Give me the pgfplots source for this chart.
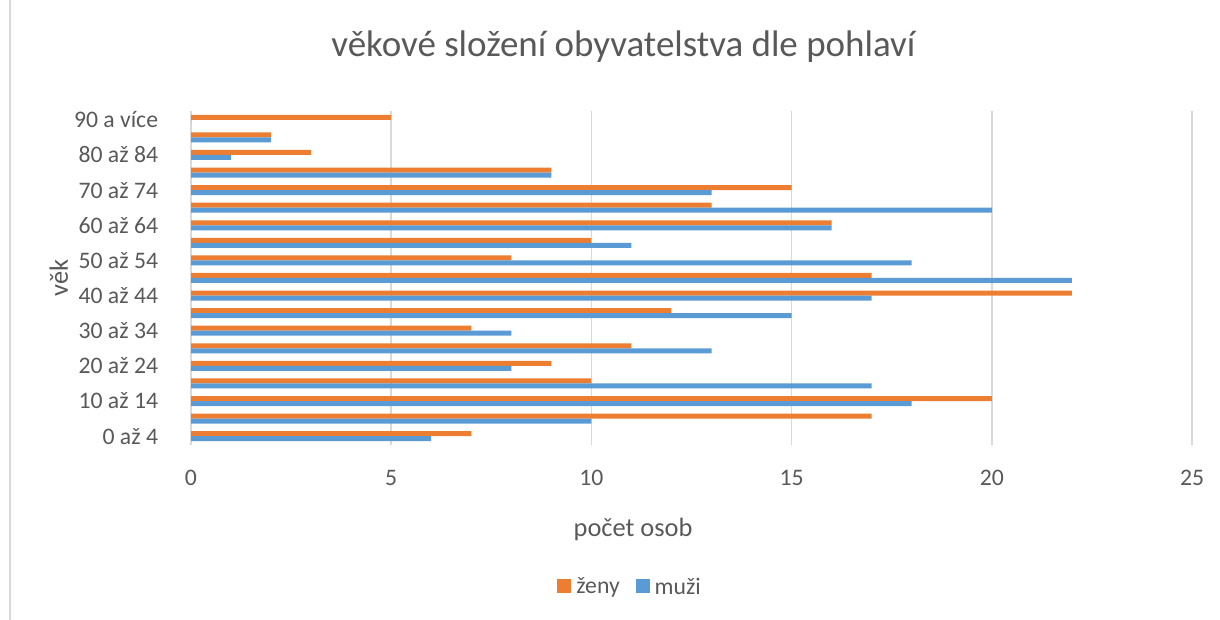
\documentclass[border=0pt]{standalone}
\usepackage{pgfplots}
\pgfplotsset{compat=1.18}
\usepackage{pgfplotstable}
\usepackage{fontspec}
\setmainfont{Carlito}
\definecolor{zeny}{HTML}{ED7D31}
\definecolor{muzi}{HTML}{5B9BD5}
\definecolor{txt}{HTML}{595959}
\definecolor{grd}{HTML}{D9D9D9}
\pgfplotstableread{
y val
0 7
1 17
2 20
3 10
4 9
5 11
6 7
7 12
8 22
9 17
10 8
11 10
12 16
13 13
14 15
15 9
16 3
17 2
18 5
}\zeny
\pgfplotstableread{
y val
0 6
1 10
2 18
3 17
4 8
5 13
6 8
7 15
8 17
9 22
10 18
11 11
12 16
13 20
14 13
15 9
16 1
17 2
18 0
}\muzi
\begin{document}
\begin{tikzpicture}
\useasboundingbox (0,0) rectangle (610pt,310pt);
\draw[grd, line width=0.8pt] (5pt,0) -- (5pt,310pt);
\begin{axis}[
  at={(95.5pt,87.5pt)}, anchor=south west,
  scale only axis, width=500.5pt, height=167pt,
  xbar, bar width=2.5pt,
  xmin=0, xmax=25, ymin=-0.5, ymax=18.5,
  xtick={0,5,10,15,20,25},
  ytick={0,2,4,6,8,10,12,14,16,18},
  yticklabels={0 až 4\hspace{2.7pt},10 až 14,20 až 24,30 až 34,40 až 44,50 až 54,60 až 64,70 až 74,80 až 84,90 a více},
  axis line style={draw=none},
  tick style={draw=none},
  xmajorgrids, major grid style={grd, line width=0.75pt},
  /pgf/number format/assume math mode=true,
  ticklabel style={font=\fontsize{11.85pt}{14pt}\selectfont, text=txt},
  xticklabel style={inner sep=0pt, anchor=north, yshift=-12.5pt},
  yticklabel style={inner sep=0pt, anchor=east, xshift=-12pt},
  title={věkové složení obyvatelstva dle pohlaví},
  title style={at={(axis description cs:0.432,1.1287)}, anchor=base, font=\fontsize{18.5pt}{22pt}\selectfont, text=txt, inner sep=0pt},
  xlabel={počet osob},
  xlabel style={at={(axis description cs:0.4416,-0.2754)}, anchor=base, font=\fontsize{13.2pt}{16pt}\selectfont, text=txt, inner sep=0pt},
  ylabel={věk},
  ylabel style={at={(axis description cs:-0.1229,0.5)}, anchor=base, font=\fontsize{13.2pt}{16pt}\selectfont, text=txt, inner sep=0pt},
  legend columns=2,
  legend style={at={(axis description cs:0.3596,-0.4266)}, anchor=west, draw=none, fill=none,
    font=\fontsize{11.85pt}{14pt}\selectfont, text=txt,
    nodes={inner sep=0pt},
    /tikz/every odd column/.append style={column sep=2.5pt},
    /tikz/every even column/.append style={column sep=8pt}},
  legend image code/.code={\fill[#1,draw=none] (0pt,-3pt) rectangle (7pt,4pt);},
]
\addplot[fill=zeny, draw=none, bar shift=1.25pt] table[x=val,y=y] {\zeny};
\addlegendentry{ženy}
\addplot[fill=muzi, draw=none, bar shift=-1.25pt] table[x=val,y=y] {\muzi};
\addlegendentry{muži}
\end{axis}
\end{tikzpicture}
\end{document}
